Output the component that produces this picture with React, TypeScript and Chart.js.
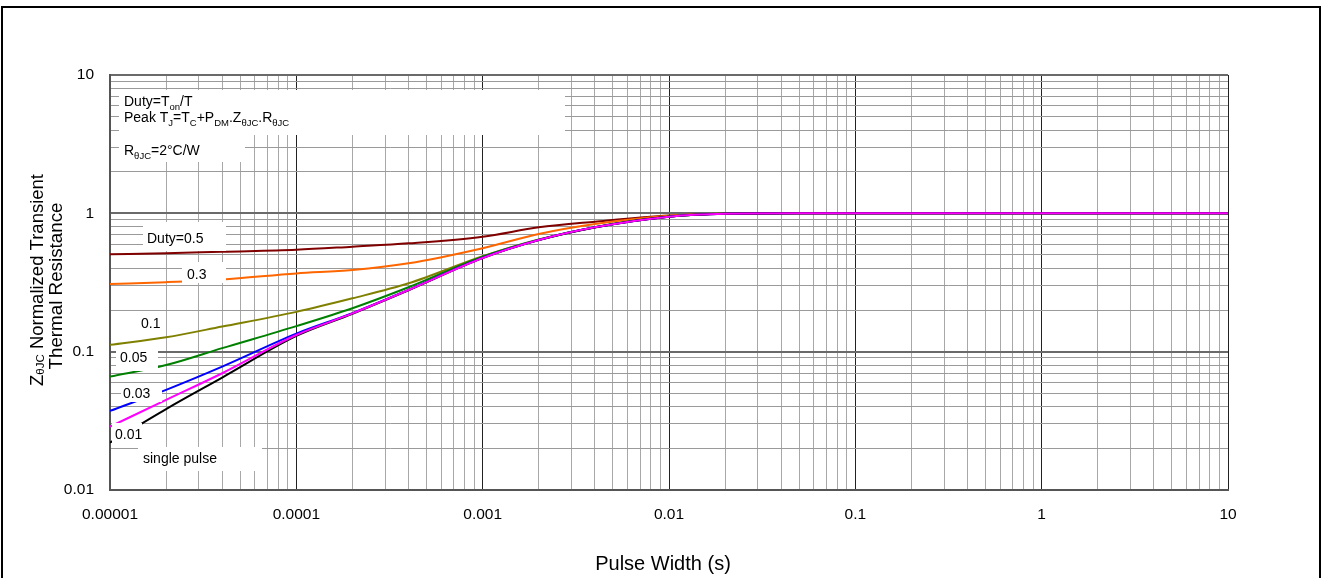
import React, { useEffect, useRef } from 'react';
import { Chart, registerables } from 'chart.js';

Chart.register(...registerables);

// ---------- data ----------
const PULSE_WIDTH = [1e-5, 2e-5, 4e-5, 1e-4, 2e-4, 4e-4, 1e-3, 2e-3, 4e-3, 1e-2, 2e-2, 5e-2, 1e-1, 1, 10];
const DUTY_05 = [0.506, 0.515, 0.528, 0.545, 0.574, 0.607, 0.678, 0.792, 0.87, 0.965, 0.995, 1, 1, 1, 1];
const DUTY_03 = [0.308, 0.318, 0.333, 0.368, 0.389, 0.435, 0.56, 0.709, 0.837, 0.96, 0.995, 1, 1, 1, 1];
const DUTY_01 = [0.112, 0.127, 0.152, 0.194, 0.243, 0.312, 0.49, 0.648, 0.795, 0.948, 0.994, 1, 1, 1, 1];
const DUTY_005 = [0.066, 0.08, 0.106, 0.153, 0.206, 0.292, 0.486, 0.645, 0.794, 0.947, 0.994, 1, 1, 1, 1];
const DUTY_003 = [0.0373, 0.053, 0.078, 0.135, 0.19, 0.28, 0.478, 0.642, 0.792, 0.946, 0.993, 1, 1, 1, 1];
const DUTY_001 = [0.0287, 0.0448, 0.0698, 0.132, 0.189, 0.279, 0.475, 0.641, 0.792, 0.946, 0.993, 1, 1, 1, 1];
const SINGLE_PULSE = [0.022, 0.0385, 0.065, 0.13, 0.188, 0.278, 0.474, 0.64, 0.791, 0.945, 0.993, 1, 1, 1, 1];

const SERIES_LABELS = ['Duty=0.5', '0.3', '0.1', '0.05', '0.03', '0.01', 'single pulse'];
const SERIES_VALUES = [DUTY_05, DUTY_03, DUTY_01, DUTY_005, DUTY_003, DUTY_001, SINGLE_PULSE];
const SERIES_COLORS = ['#800000', '#ff6600', '#808000', '#008000', '#0000ff', '#ff00ff', '#000000'];
const SERIES_ORDER = [6, 5, 4, 3, 2, 0, 1];

const X_TICK_LABELS = ['0.00001', '0.0001', '0.001', '0.01', '0.1', '1', '10'];
const Y_TICK_LABELS = ['0.01', '0.1', '1', '10'];

const X_TITLE = 'Pulse Width (s)';
type Seg = { t: string; sub?: boolean };
const Y_TITLE_1: Seg[] = [{ t: 'Z' }, { t: '\u03b8JC', sub: true }, { t: ' Normalized Transient' }];
const Y_TITLE_2: Seg[] = [{ t: 'Thermal Resistance' }];
const NOTE_1: Seg[] = [{ t: 'Duty=T' }, { t: 'on', sub: true }, { t: '/T' }];
const NOTE_2: Seg[] = [
  { t: 'Peak T' }, { t: 'J', sub: true }, { t: '=T' }, { t: 'C', sub: true }, { t: '+P' }, { t: 'DM', sub: true },
  { t: '.Z' }, { t: '\u03b8JC', sub: true }, { t: '.R' }, { t: '\u03b8JC', sub: true },
];
const NOTE_3: Seg[] = [{ t: 'R' }, { t: '\u03b8JC', sub: true }, { t: '=2\u00b0C/W' }];

// ---------- helpers ----------
const FONT = '"Liberation Sans", Arial, Helvetica, sans-serif';
const font = (s: number) => `${s}px ${FONT}`;

function drawRich(
  ctx: CanvasRenderingContext2D, segs: Seg[], x: number, y: number,
  size: number, subSize: number, subShift: number, align: 'left' | 'center',
) {
  let total = 0;
  for (const s of segs) {
    ctx.font = font(s.sub ? subSize : size);
    total += ctx.measureText(s.t).width;
  }
  let cx = align === 'center' ? x - total / 2 : x;
  ctx.textAlign = 'left';
  ctx.textBaseline = 'alphabetic';
  for (const s of segs) {
    ctx.font = font(s.sub ? subSize : size);
    ctx.fillText(s.t, cx, y + (s.sub ? subShift : 0));
    cx += ctx.measureText(s.t).width;
  }
}

const isDecade = (v: number) => Math.abs(Math.log10(v) - Math.round(Math.log10(v))) < 1e-6;

function logTicks(min: number, max: number) {
  const out: { value: number }[] = [];
  const e0 = Math.round(Math.log10(min));
  const e1 = Math.round(Math.log10(max));
  for (let e = e0; e <= e1; e++) {
    for (let m = 1; m <= 9; m++) {
      const v = Number((m * Math.pow(10, e)).toPrecision(6));
      if (v <= max * 1.000001) out.push({ value: v });
    }
  }
  return out;
}

// white boxes behind labels (page pixel coords of the reference layout)
const BOXES: [number, number, number, number][] = [
  [119, 90, 565, 135],
  [119, 135, 245, 162],
  [143, 222, 226, 251],
  [182, 262, 226, 283],
  [116, 347, 158, 371],
  [121, 384, 162, 402],
  [112, 423, 142, 446],
  [138, 447, 262, 471],
];
const LABEL_POS: [number, number][] = [
  [147, 243], [187, 279], [141, 328], [120, 362], [123, 398], [115, 439], [143, 463],
];

const overlayPlugin = {
  id: 'overlay',
  afterDatasetsDraw(chart: any) {
    const ctx: CanvasRenderingContext2D = chart.ctx;
    const ca = chart.chartArea;
    const ox = ca.left - 110;
    const oy = ca.top - 75;
    ctx.save();
    ctx.fillStyle = '#ffffff';
    for (const [x0, y0, x1, y1] of BOXES) ctx.fillRect(x0 + ox, y0 + oy, x1 - x0, y1 - y0);

    ctx.fillStyle = '#000000';
    ctx.font = font(14);
    ctx.textAlign = 'left';
    ctx.textBaseline = 'alphabetic';
    SERIES_LABELS.forEach((lab, i) => {
      const [x, y] = LABEL_POS[i];
      ctx.fillText(lab, x + ox, y + oy);
    });

    drawRich(ctx, NOTE_1, 124 + ox, 106 + oy, 14, 9.5, 3.5, 'left');
    drawRich(ctx, NOTE_2, 124 + ox, 122 + oy, 14, 9.5, 3.5, 'left');
    drawRich(ctx, NOTE_3, 124 + ox, 155 + oy, 14, 9.5, 3.5, 'left');

    // x title
    ctx.font = font(20);
    ctx.textAlign = 'center';
    ctx.fillText(X_TITLE, (ca.left + ca.right) / 2 - 6, 570);

    // y title (rotated)
    ctx.save();
    ctx.translate(43, 280);
    ctx.rotate(-Math.PI / 2);
    drawRich(ctx, Y_TITLE_1, 0, 0, 18.5, 11.5, 1, 'center');
    ctx.restore();
    ctx.save();
    ctx.translate(62, 286);
    ctx.rotate(-Math.PI / 2);
    drawRich(ctx, Y_TITLE_2, 0, 0, 18.8, 12, 1, 'center');
    ctx.restore();

    ctx.restore();
  },
};

export default function App() {
  const ref = useRef<HTMLCanvasElement>(null);

  useEffect(() => {
    const canvas = ref.current;
    if (!canvas) return;
    const datasets = SERIES_LABELS.map((label, i) => ({
      label,
      data: PULSE_WIDTH.map((x, j) => ({ x, y: SERIES_VALUES[i][j] })),
      borderColor: SERIES_COLORS[i],
      backgroundColor: SERIES_COLORS[i],
      borderWidth: 2,
      pointRadius: 0,
      fill: false,
      cubicInterpolationMode: 'monotone' as const,
      order: SERIES_ORDER[i],
    }));

    const chart = new Chart(canvas, {
      type: 'line',
      data: { datasets },
      plugins: [overlayPlugin],
      options: {
        animation: false,
        responsive: false,
        events: [],
        layout: { padding: { left: 0, top: 75, right: 94, bottom: 0 } },
        plugins: { legend: { display: false }, tooltip: { enabled: false }, title: { display: false } },
        scales: {
          x: {
            type: 'logarithmic',
            min: 1e-5,
            max: 10,
            afterBuildTicks: (s: any) => { s.ticks = logTicks(1e-5, 10); },
            afterFit: (s: any) => { s.height = 88; },
            border: { display: true, color: '#555555', width: 2 },
            grid: {
              drawTicks: false,
              color: (c: any) => (c.tick && isDecade(c.tick.value) ? '#222222' : '#a8a8a8'),
              lineWidth: 1,
            },
            ticks: {
              autoSkip: false,
              maxRotation: 0,
              minRotation: 0,
              padding: 15,
              color: '#000000',
              font: { family: FONT, size: 15.5 },
              callback: (v: any) => {
                const n = Number(v);
                if (!isDecade(n)) return '';
                return X_TICK_LABELS[Math.round(Math.log10(n)) + 5] ?? '';
              },
            },
          },
          y: {
            type: 'logarithmic',
            min: 0.01,
            max: 10,
            afterBuildTicks: (s: any) => { s.ticks = logTicks(0.01, 10); },
            afterFit: (s: any) => { s.width = 110; },
            border: { display: true, color: '#555555', width: 2 },
            grid: {
              drawTicks: false,
              color: (c: any) => (c.tick && isDecade(c.tick.value) ? '#6a6a6a' : '#9a9a9a'),
              lineWidth: (c: any) => (c.tick && isDecade(c.tick.value) ? 2 : 1),
            },
            ticks: {
              autoSkip: false,
              padding: 16,
              color: '#000000',
              font: { family: FONT, size: 15.5 },
              callback: (v: any) => {
                const n = Number(v);
                if (!isDecade(n)) return '';
                return Y_TICK_LABELS[Math.round(Math.log10(n)) + 2] ?? '';
              },
            },
          },
        },
      },
    } as any);
    return () => chart.destroy();
  }, []);

  return (
    <div style={{ position: 'absolute', left: 0, top: 0, width: 1322, height: 578, background: '#ffffff', overflow: 'hidden' }}>
      <div
        style={{
          position: 'absolute', left: 1, top: 6, width: 1320, height: 640, boxSizing: 'border-box',
          borderTop: '2px solid #000', borderLeft: '2px solid #000', borderRight: '2px solid #000',
        }}
      />
      <canvas ref={ref} width={1322} height={578} style={{ position: 'absolute', left: 0, top: 0, width: 1322, height: 578 }} />
    </div>
  );
}
